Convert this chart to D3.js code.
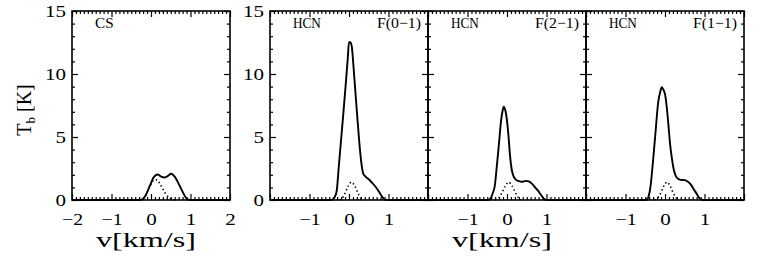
<!DOCTYPE html>
<html>
<head>
<meta charset="utf-8">
<script src="https://cdn.jsdelivr.net/npm/d3@7"></script>
<style>
  body { margin: 0; background: #fff; }
  svg text { font-family: "Liberation Serif", serif; fill: #000; }
</style>
</head>
<body>
<svg id="chart" width="761" height="258"></svg>
<script>
// ---- data ----
const velDomain = [-2, 2];
const tbDomain = [0, 15];
const molecules = ["CS", "HCN", "HCN", "HCN"];
const transitions = ["", "F(0\u22121)", "F(2\u22121)", "F(1\u22121)"];
const xTickLabels = [[-2, -1, 0, 1, 2], [-1, 0, 1], [-1, 0, 1], [-1, 0, 1]];
const yTickLabels = [0, 5, 10, 15];

const csVel = [-2, -0.3, -0.22, -0.13, -0.02, 0.08, 0.17, 0.26, 0.34, 0.43, 0.51, 0.6, 0.7, 0.8, 0.88, 0.95, 1.05, 2];
const csTb  = [0, 0, 0.05, 0.4, 1.2, 1.85, 2.02, 1.85, 1.78, 1.92, 2.08, 1.85, 1.3, 0.66, 0.2, 0.02, 0, 0];
const csCompVel = [-0.3, -0.22, -0.13, -0.02, 0.08, 0.15, 0.25, 0.35, 0.45, 0.55, 0.65];
const csCompTb  = [0, 0.05, 0.4, 1.15, 1.6, 1.6, 1.15, 0.6, 0.2, 0.02, 0];

const f01Vel = [-2, -0.45, -0.41, -0.36, -0.31, -0.26, -0.2, -0.14, -0.08, -0.03, 0, 0.04, 0.07, 0.13, 0.2, 0.26, 0.31, 0.36, 0.44, 0.53, 0.62, 0.7, 0.79, 0.87, 0.94, 1.0, 2];
const f01Tb  = [0, 0, 0.05, 0.25, 0.75, 2.6, 4.8, 7.0, 9.3, 11.3, 12.55, 12.5, 12.2, 9.9, 7.0, 4.6, 3.0, 2.1, 1.8, 1.55, 1.25, 0.93, 0.5, 0.13, 0.01, 0, 0];
const f01CompVel = [-0.24, -0.17, -0.1, -0.02, 0.06, 0.14, 0.22, 0.3, 0.37];
const f01CompTb  = [0, 0.15, 0.55, 1.1, 1.42, 1.15, 0.6, 0.15, 0];

const f21Vel = [-2, -0.47, -0.41, -0.36, -0.31, -0.26, -0.2, -0.15, -0.11, -0.08, -0.05, 0, 0.04, 0.08, 0.12, 0.17, 0.23, 0.3, 0.38, 0.47, 0.55, 0.63, 0.71, 0.79, 0.86, 0.92, 0.97, 1.03, 2];
const f21Tb  = [0, 0, 0.15, 0.55, 1.1, 2.6, 4.6, 6.3, 7.1, 7.4, 7.2, 6.3, 5.0, 3.4, 2.4, 1.85, 1.6, 1.5, 1.45, 1.52, 1.48, 1.3, 1.0, 0.72, 0.4, 0.15, 0.03, 0, 0];
const f21CompVel = [-0.3, -0.22, -0.14, -0.05, 0.04, 0.13, 0.21, 0.29, 0.36];
const f21CompTb  = [0, 0.15, 0.5, 1.05, 1.42, 1.1, 0.6, 0.18, 0];

const f11Vel = [-2, -0.5, -0.45, -0.41, -0.37, -0.32, -0.25, -0.17, -0.12, -0.08, -0.04, 0, 0.04, 0.08, 0.13, 0.17, 0.21, 0.26, 0.32, 0.4, 0.5, 0.58, 0.66, 0.74, 0.81, 0.87, 0.93, 1.0, 2];
const f11Tb  = [0, 0, 0.05, 0.35, 1.0, 2.5, 5.0, 7.8, 8.6, 8.95, 8.75, 8.4, 7.5, 6.2, 4.4, 3.4, 2.6, 2.0, 1.7, 1.6, 1.58, 1.45, 1.2, 0.8, 0.45, 0.15, 0.02, 0, 0];
const f11CompVel = [-0.26, -0.19, -0.11, -0.03, 0.05, 0.13, 0.21, 0.29, 0.35];
const f11CompTb  = [0, 0.15, 0.55, 1.1, 1.42, 1.1, 0.55, 0.15, 0];

const spectra = [
  { vel: csVel, tb: csTb, compVel: csCompVel, compTb: csCompTb },
  { vel: f01Vel, tb: f01Tb, compVel: f01CompVel, compTb: f01CompTb },
  { vel: f21Vel, tb: f21Tb, compVel: f21CompVel, compTb: f21CompTb },
  { vel: f11Vel, tb: f11Tb, compVel: f11CompVel, compTb: f11CompTb }
];

// ---- layout ----
const panelLeft = [72, 270, 428, 586];
const panelWidth = 158;
const plotTop = 11, plotBottom = 200;

const svg = d3.select("#chart");

const y = d3.scaleLinear().domain(tbDomain).range([plotBottom, plotTop]);
const yMinor = d3.range(0, 16).filter(d => d % 5 !== 0);
const xMajor = d3.range(-2, 3);
const xMinor = d3.range(-20, 21).filter(i => i % 10 !== 0).map(i => i / 10);

// IDL's vector font is wide: stretch labels a little
const widen = sel => sel
  .attr("font-size", 17).attr("font-family", null)
  .attr("lengthAdjust", "spacingAndGlyphs")
  .attr("textLength", function () { return this.textContent.length * 10.5; });

spectra.forEach((s, i) => {
  const x0 = panelLeft[i];
  const x = d3.scaleLinear().domain(velDomain).range([x0, x0 + panelWidth]);
  const g = svg.append("g");

  // ticks on all four sides, pointing inward
  const addAxis = (axis, transform) => {
    const a = g.append("g").attr("transform", transform).call(axis);
    a.select(".domain").remove();
    a.selectAll(".tick line").attr("stroke", "#000").attr("stroke-width", 1.2);
    a.selectAll("text").remove();
  };
  addAxis(d3.axisBottom(x).tickValues(xMajor).tickSize(-6), `translate(0,${plotBottom})`);
  addAxis(d3.axisBottom(x).tickValues(xMinor).tickSize(-3), `translate(0,${plotBottom})`);
  addAxis(d3.axisTop(x).tickValues(xMajor).tickSize(-6), `translate(0,${plotTop})`);
  addAxis(d3.axisTop(x).tickValues(xMinor).tickSize(-3), `translate(0,${plotTop})`);
  addAxis(d3.axisLeft(y).tickValues([0, 5, 10, 15]).tickSize(-6), `translate(${x0},0)`);
  addAxis(d3.axisLeft(y).tickValues(yMinor).tickSize(-3), `translate(${x0},0)`);
  addAxis(d3.axisRight(y).tickValues([0, 5, 10, 15]).tickSize(-6), `translate(${x0 + panelWidth},0)`);
  addAxis(d3.axisRight(y).tickValues(yMinor).tickSize(-3), `translate(${x0 + panelWidth},0)`);

  // tick labels
  const xl = g.append("g").attr("transform", `translate(0,${plotBottom})`)
    .call(d3.axisBottom(x).tickValues(xTickLabels[i]).tickSize(0).tickPadding(13).tickFormat(d3.format("d")));
  xl.select(".domain").remove();
  widen(xl.selectAll("text"));

  if (i < 2) {
    const yl = g.append("g").attr("transform", `translate(${x0},0)`)
      .call(d3.axisLeft(y).tickValues(yTickLabels).tickSize(0).tickPadding(6));
    yl.select(".domain").remove();
    widen(yl.selectAll("text"));
  }

  // frame
  g.append("rect")
    .attr("x", x0).attr("y", plotTop)
    .attr("width", panelWidth).attr("height", plotBottom - plotTop)
    .attr("fill", "none").attr("stroke", "#000").attr("stroke-width", 1.6);

  // spectra
  const line = d3.line().x(d => x(d[0])).y(d => y(d[1])).curve(d3.curveMonotoneX);
  g.append("path")
    .datum(d3.zip(s.compVel, s.compTb))
    .attr("d", line)
    .attr("fill", "none").attr("stroke", "#000")
    .attr("stroke-width", 1.6).attr("stroke-dasharray", "1.4,2.6");
  g.append("path")
    .datum(d3.zip(s.vel, s.tb))
    .attr("d", line)
    .attr("fill", "none").attr("stroke", "#000")
    .attr("stroke-width", 1.9).attr("stroke-linejoin", "round");

  // labels
  g.append("text").attr("x", x0 + 23).attr("y", 28)
    .attr("font-size", 15)
    .attr("textLength", molecules[i].length * 9.3).attr("lengthAdjust", "spacingAndGlyphs")
    .text(molecules[i]);
  if (transitions[i]) {
    g.append("text").attr("x", x0 + panelWidth - 7).attr("y", 28)
      .attr("text-anchor", "end").attr("font-size", 15)
      .attr("textLength", 44).attr("lengthAdjust", "spacingAndGlyphs")
      .text(transitions[i]);
  }
});

// axis titles
[0, 2].forEach(i => {
  svg.append("text")
    .attr("x", panelLeft[i] + panelWidth / 2 - 5).attr("y", 247)
    .attr("text-anchor", "middle").attr("font-size", 21)
    .attr("textLength", 100).attr("lengthAdjust", "spacingAndGlyphs")
    .text("v[km/s]");
});

const yTitle = svg.append("text")
  .attr("transform", "translate(31,110) rotate(-90)")
  .attr("text-anchor", "middle").attr("font-size", 20);
yTitle.append("tspan").text("T");
yTitle.append("tspan").attr("font-size", 13).attr("dy", 4).text("b");
yTitle.append("tspan").attr("dy", -4).text(" [K]");
</script>
</body>
</html>
